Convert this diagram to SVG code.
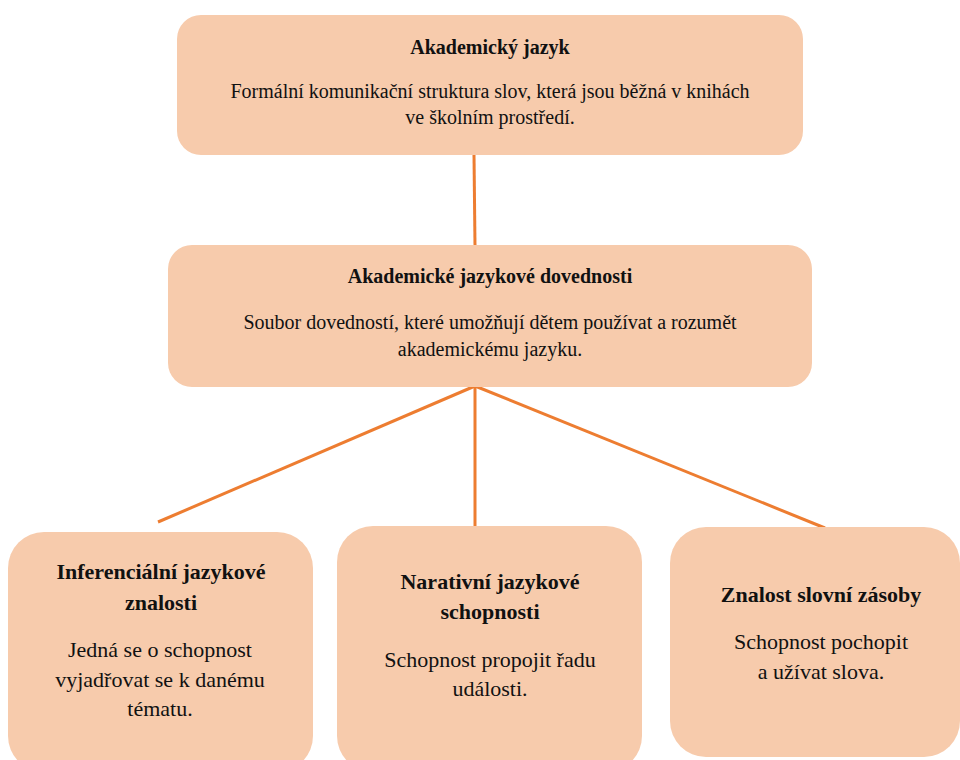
<svg xmlns="http://www.w3.org/2000/svg" width="960" height="760" viewBox="0 0 960 760">
<style>
.box{fill:#F7CBAC;}
.c{stroke:#ED7D31;stroke-width:3;fill:none;}
.t{fill:#111;text-anchor:middle;}
.b{font-weight:bold;}
</style>
<rect width="960" height="760" fill="#fff"/>
<g id="connectors">
<line class="c" x1="474" y1="155" x2="475" y2="246"/>
<line class="c" x1="475" y1="386" x2="158" y2="522"/>
<line class="c" x1="475" y1="386" x2="475" y2="527"/>
<line class="c" x1="475" y1="386" x2="825" y2="528"/>
</g>
<g id="n1">
<rect class="box" x="177" y="15" width="626" height="140" rx="24"/>
<text class="t b" font-family="Liberation Serif, serif" font-size="20" x="490" y="54">Akademický jazyk</text>
<text class="t" font-family="Liberation Serif, serif" font-size="20" x="490" y="98">Formální komunikační struktura slov, která jsou běžná v knihách</text>
<text class="t" font-family="Liberation Serif, serif" font-size="20" x="490" y="124">ve školním prostředí.</text>
</g>
<g id="n2">
<rect class="box" x="168" y="245" width="644" height="142" rx="24"/>
<text class="t b" font-family="Liberation Serif, serif" font-size="20" x="490" y="283">Akademické jazykové dovednosti</text>
<text class="t" font-family="Liberation Serif, serif" font-size="20" x="490" y="329">Soubor dovedností, které umožňují dětem používat a rozumět</text>
<text class="t" font-family="Liberation Serif, serif" font-size="20" x="490" y="356">akademickému jazyku.</text>
</g>
<g id="n3">
<rect class="box" x="8" y="532" width="305" height="240" rx="36"/>
<text class="t b" font-family="Liberation Serif, serif" font-size="22" x="161" y="579">Inferenciální jazykové</text>
<text class="t b" font-family="Liberation Serif, serif" font-size="22" x="161" y="610">znalosti</text>
<text class="t" font-family="Liberation Serif, serif" font-size="22" x="160" y="657">Jedná se o schopnost</text>
<text class="t" font-family="Liberation Serif, serif" font-size="22" x="160" y="687">vyjadřovat se k danému</text>
<text class="t" font-family="Liberation Serif, serif" font-size="22" x="160" y="716">tématu.</text>
</g>
<g id="n4">
<rect class="box" x="337" y="526" width="305" height="246" rx="36"/>
<text class="t b" font-family="Liberation Serif, serif" font-size="22" x="490" y="589">Narativní jazykové</text>
<text class="t b" font-family="Liberation Serif, serif" font-size="22" x="490" y="619">schopnosti</text>
<text class="t" font-family="Liberation Serif, serif" font-size="22" x="490" y="667">Schopnost propojit řadu</text>
<text class="t" font-family="Liberation Serif, serif" font-size="22" x="490" y="696">události.</text>
</g>
<g id="n5">
<rect class="box" x="670" y="527" width="290" height="230" rx="36"/>
<text class="t b" font-family="Liberation Serif, serif" font-size="22" x="821" y="602">Znalost slovní zásoby</text>
<text class="t" font-family="Liberation Serif, serif" font-size="22" x="821" y="649">Schopnost pochopit</text>
<text class="t" font-family="Liberation Serif, serif" font-size="22" x="821" y="679">a užívat slova.</text>
</g>
</svg>
